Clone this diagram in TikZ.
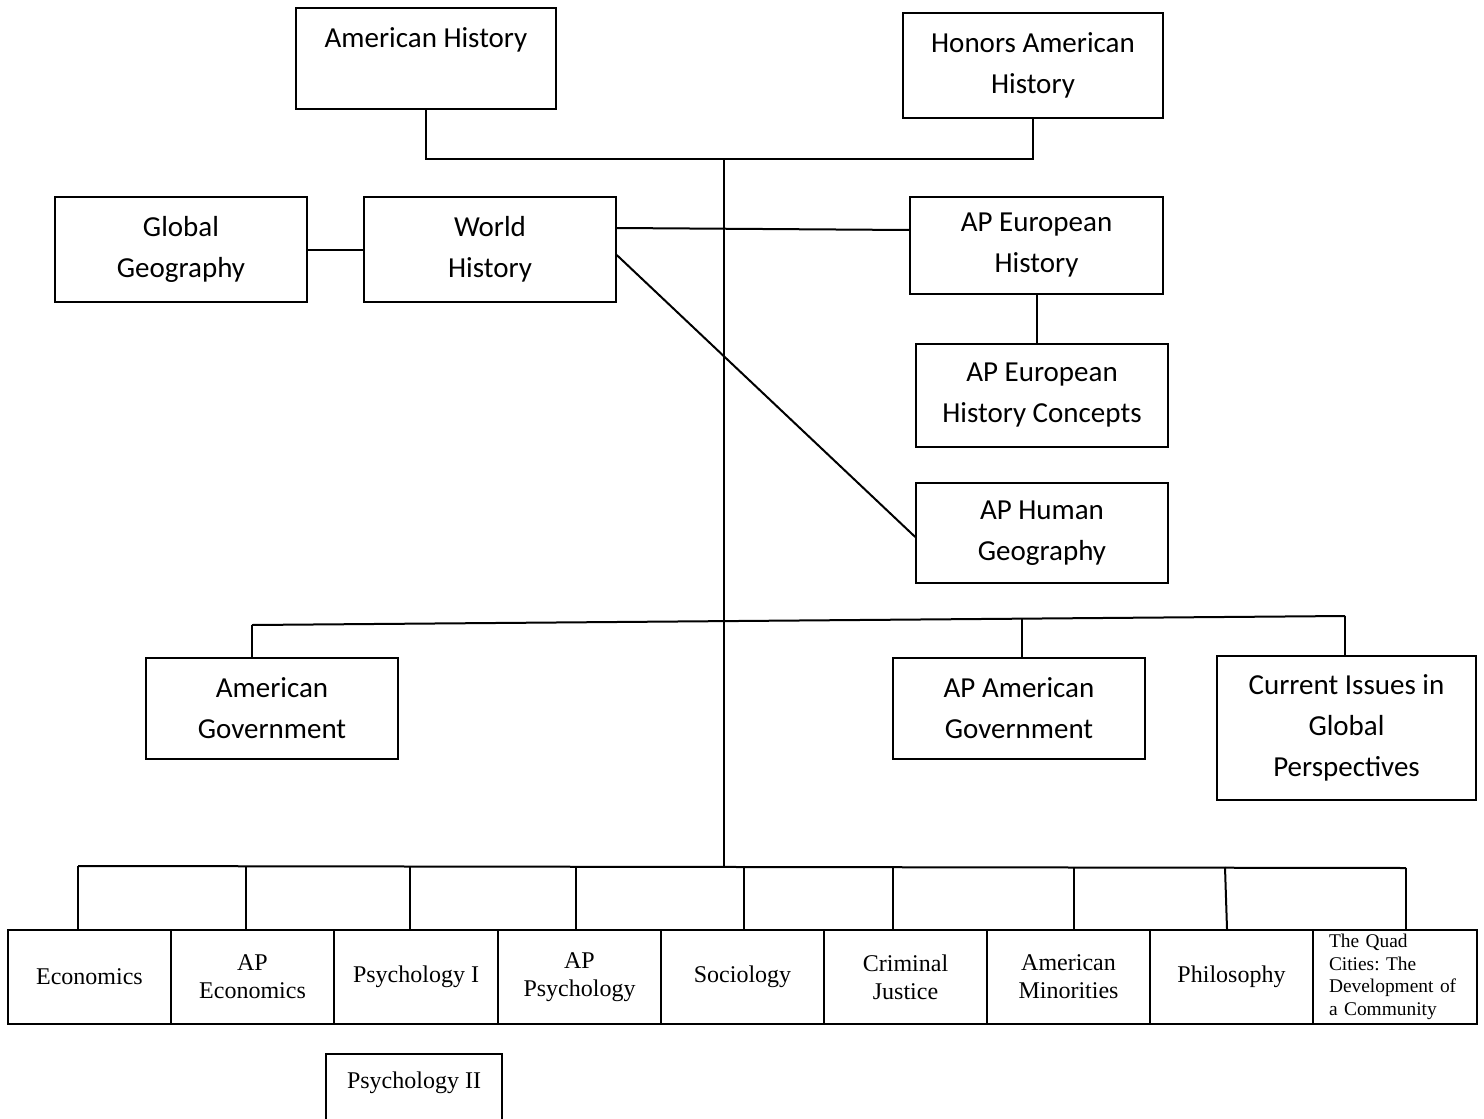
\documentclass[tikz,border=0pt]{standalone}
\usepackage{fontspec}
\setmainfont{Liberation Serif}
\newfontfamily\calfont{Carlito}
\begin{document}
\begin{tikzpicture}[x=0.5pt,y=-0.5pt,
  box/.style={draw, line width=0.75pt, inner sep=0pt, align=center,
    font=\calfont\fontsize{14.5}{20.5}\selectfont},
  cbox/.style={draw, line width=1.2pt, inner sep=0pt, align=center,
    minimum width=81.5pt, minimum height=47pt,
    font=\fontsize{12}{14}\selectfont},
  conn/.style={line width=1pt}]
\fill[white] (0,0) rectangle (1484,1119);
\useasboundingbox (0,0) rectangle (1484,1119);

% top boxes
\node[box, minimum width=130pt, minimum height=50.5pt] (amh) at (426,58.5) {American History\\ \mbox{}};
\node[box, minimum width=130pt, minimum height=52.5pt] (hon) at (1033,65.5) {Honors American\\History};
\node[box, minimum width=126pt, minimum height=52.5pt] (gg) at (181,249.5) {Global\\Geography};
\node[box, minimum width=126pt, minimum height=52.5pt] (wh) at (490,249.5) {World\\History};
\node[box, minimum width=126.5pt, minimum height=48.5pt] (ape) at (1036.5,245.5) {AP European\\History};
\node[box, minimum width=126pt, minimum height=51.5pt] (apec) at (1042,395.5) {AP European\\History Concepts};
\node[box, minimum width=126pt, minimum height=50pt] (ahg) at (1042,533) {AP Human\\Geography};
\node[box, minimum width=126pt, minimum height=50.5pt] (ag) at (272,708.5) {American\\Government};
\node[box, minimum width=126pt, minimum height=50.5pt] (apag) at (1019,708.5) {AP American\\Government};
\node[box, minimum width=129.5pt, minimum height=72pt] (cig) at (1346.5,728) {Current Issues in\\Global\\Perspectives};

% bottom row
\node[cbox] (b1) at (89.5,977) {Economics};
\node[cbox] (b2) at (252.5,977) {AP\\Economics};
\node[cbox, minimum width=82pt] (b3) at (416,977) {Psychology I};
\node[cbox] (b4) at (579.5,977) {AP\\Psychology};
\node[cbox] (b5) at (742.5,977) {Sociology};
\node[cbox] (b6) at (905.5,977) {Criminal\\Justice};
\node[cbox] (b7) at (1068.5,977) {American\\Minorities};
\node[cbox] (b8) at (1231.5,977) {Philosophy};
\node[cbox, minimum width=82pt, align=left, text width=66pt,
  font=\fontsize{9.7}{11.25}\selectfont\frenchspacing] (b9) at (1395,977) {The Quad\\Cities: The\\Development of\\a Community};
\node[draw, line width=0.75pt, inner sep=0pt, align=center,
  minimum width=88pt, minimum height=40pt,
  font=\fontsize{12}{14}\selectfont] (p2) at (414,1094) {Psychology II\\ \mbox{}};

% coordinates
\coordinate (tj) at (724,159);
\coordinate (bj) at (724,866);
\coordinate (gl) at (252,625);
\coordinate (gr) at (1345,616);
\coordinate (gm) at (1022,618);
\coordinate (bl) at (78,866);
\coordinate (br) at (1406,868);
\coordinate (d2) at (246,866);
\coordinate (d3) at (410,866);
\coordinate (d4) at (576,866);
\coordinate (d5) at (744,866);
\coordinate (d6) at (893,866);
\coordinate (d7) at (1074,867);
\coordinate (d8) at (1225,867);

% connectors
\draw[conn] (amh.south) |- (tj) -| (hon.south);
\draw[conn] (tj) -- (bj);
\draw[conn] (gg.east) -- (wh.west);
\draw[conn] ([yshift=10.75pt]wh.east) -- ([yshift=7.75pt]ape.west);
\draw[conn] ([yshift=-2.75pt]wh.east) -- ([yshift=-2pt]ahg.west);
\draw[conn] (ape.south) -- (apec.north -| ape.south);
\draw[conn] (gl) -- (gr);
\draw[conn] (gl) -- (gl |- ag.north);
\draw[conn] (gm) -- (gm |- apag.north);
\draw[conn] (gr) -- (gr |- cig.north);
\draw[conn] (bl) -- (br);
\draw[conn] (bl) -- (bl |- b1.north);
\draw[conn] (d2) -- (d2 |- b2.north);
\draw[conn] (d3) -- (d3 |- b3.north);
\draw[conn] (d4) -- (d4 |- b4.north);
\draw[conn] (d5) -- (d5 |- b5.north);
\draw[conn] (d6) -- (d6 |- b6.north);
\draw[conn] (d7) -- (d7 |- b7.north);
\draw[conn] (d8) -- ([xshift=1pt]d8 |- b8.north);
\draw[conn] (br) -- (br |- b9.north);
\end{tikzpicture}
\end{document}
